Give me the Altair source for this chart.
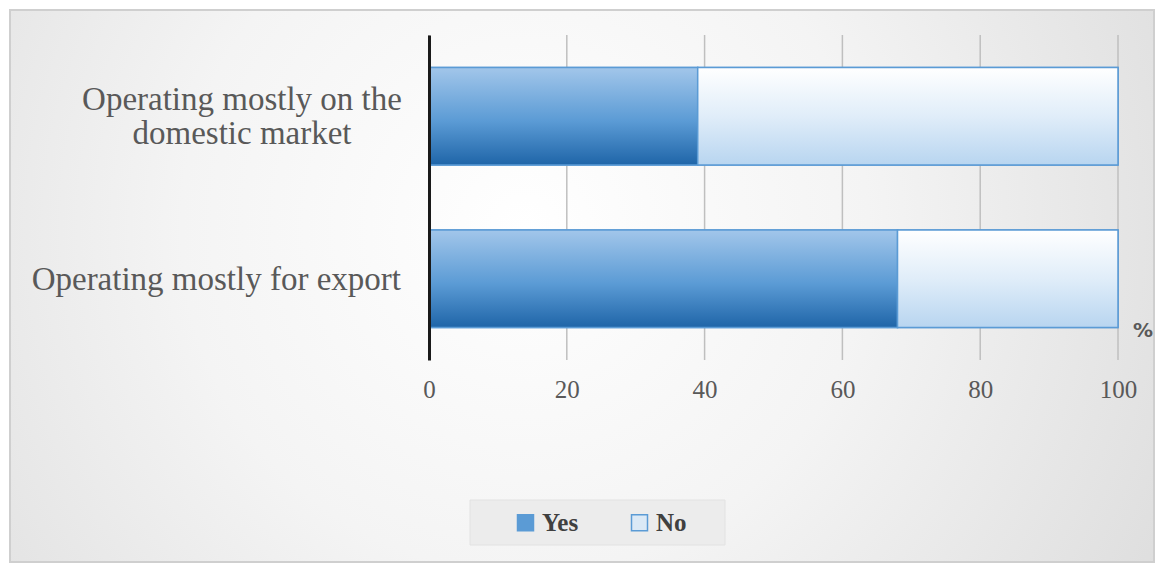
import altair as alt
import pandas as pd

categories = ["Operating mostly on the domestic market", "Operating mostly for export"]
series = ["Yes", "No"]
yes_values = [39, 68]
no_values = [61, 32]
x_ticks = [0, 20, 40, 60, 80, 100]

rows = []
for c, y, n in zip(categories, yes_values, no_values):
    rows.append({"category": c, "series": "Yes", "value": y, "order": 0})
    rows.append({"category": c, "series": "No", "value": n, "order": 1})
df = pd.DataFrame(rows)

W, H = 689, 325
PL, PT, PR, PB = 421, 27, 44, 206
SERIF = "Liberation Serif"
GREY = "#595959"

yscale = alt.Scale(domain=categories, paddingInner=0.4, paddingOuter=0.2)
xscale = alt.Scale(domain=[0, 100], nice=False)

base = alt.Chart(df).transform_stack(
    stack="value", groupby=["category"], as_=["v0", "v1"],
    sort=[alt.SortField("order", order="ascending")]
)

# background panel with radial gradient
bg = alt.Chart(pd.DataFrame({"k": [0]})).mark_rect(
    clip=False,
    fill=alt.Gradient(
        gradient="radial", x1=0.45, y1=0.45, r1=0.0, x2=0.45, y2=0.45, r2=0.75,
        stops=[alt.GradientStop(color="#ffffff", offset=0),
               alt.GradientStop(color="#f4f4f4", offset=0.4),
               alt.GradientStop(color="#d6d6d6", offset=1)]),
    stroke="#cfcfcf", strokeWidth=2,
).encode(
    x=alt.value(-PL + 2), x2=alt.value(W + PR - 8),
    y=alt.value(-PT + 2), y2=alt.value(H + PB - 4),
)

# legend box
legbox = alt.Chart(pd.DataFrame({"k": [0]})).mark_rect(
    clip=False, fill="#ececec", stroke="#e2e2e2", strokeWidth=1,
).encode(
    x=alt.value(41), x2=alt.value(296),
    y=alt.value(465), y2=alt.value(510),
)

grid = alt.Chart(pd.DataFrame({"t": x_ticks})).mark_rule(
    color="#bfbfbf", strokeWidth=1.5
).encode(
    x=alt.X("t:Q", scale=xscale),
    y=alt.value(0), y2=alt.value(H),
)

axis_x = alt.Axis(values=x_ticks, grid=False, domain=False, ticks=False,
                  labelFont=SERIF, labelFontSize=25, zindex=1, labelFlush=False,
                  labelColor=GREY, labelPadding=17, title=None)
axis_y = alt.Axis(labels=False, ticks=False, grid=False, domain=True, zindex=1,
                  domainColor="#1a1a1a", domainWidth=3, title=None)

bars = base.mark_bar(stroke="#5b9bd5", strokeWidth=1.5).encode(
    y=alt.Y("category:N", scale=yscale, axis=axis_y, sort=categories),
    x=alt.X("v0:Q", scale=xscale, axis=axis_x),
    x2="v1:Q",
    fill=alt.Fill("series:N", scale=alt.Scale(domain=series, range=["#5b9bd5", "#dbe9f6"]),
                  legend=alt.Legend(title=None, orient="none", legendX=84, legendY=475,
                                    direction="horizontal", symbolType="square",
                                    symbolSize=256, symbolStrokeColor="#5b9bd5",
                                    symbolStrokeWidth=1.5, labelFont=SERIF,
                                    labelFontSize=25, labelFontWeight="bold",
                                    labelColor="#404040", columnPadding=48,
                                    padding=0, labelOffset=4, offset=0)),
)

yes_grad = alt.Gradient(gradient="linear", x1=0, y1=0, x2=0, y2=1,
                        stops=[alt.GradientStop(color="#a2c6ea", offset=0),
                               alt.GradientStop(color="#5b9bd5", offset=0.55),
                               alt.GradientStop(color="#1f65a8", offset=1)])
no_grad = alt.Gradient(gradient="linear", x1=0, y1=0, x2=0, y2=1,
                       stops=[alt.GradientStop(color="#ffffff", offset=0),
                              alt.GradientStop(color="#e0edf9", offset=0.5),
                              alt.GradientStop(color="#b8d5f0", offset=1)])

yes_bars = base.transform_filter(alt.datum.series == "Yes").mark_bar(
    fill=yes_grad, stroke="#5b9bd5", strokeWidth=1.5).encode(
    y=alt.Y("category:N", scale=yscale, sort=categories),
    x=alt.X("v0:Q", scale=xscale), x2="v1:Q")
no_bars = base.transform_filter(alt.datum.series == "No").mark_bar(
    fill=no_grad, stroke="#5b9bd5", strokeWidth=1.5).encode(
    y=alt.Y("category:N", scale=yscale, sort=categories),
    x=alt.X("v0:Q", scale=xscale), x2="v1:Q")

lab_df = pd.DataFrame({"category": categories})
lab_dom = alt.Chart(lab_df).transform_filter(alt.datum.category == categories[0]).mark_text(
    font=SERIF, fontSize=33, color=GREY, align="center", baseline="middle",
    lineHeight=34, dy=-16,
).encode(
    y=alt.Y("category:N", scale=yscale, sort=categories),
    x=alt.value(-187),
    text=alt.value(["Operating mostly on the", "domestic market"]),
)
lab_exp = alt.Chart(lab_df).transform_filter(alt.datum.category == categories[1]).mark_text(
    font=SERIF, fontSize=33, color=GREY, align="right", baseline="middle", dy=1,
).encode(
    y=alt.Y("category:N", scale=yscale, sort=categories),
    x=alt.value(-28),
    text="category:N",
)

pct = alt.Chart(pd.DataFrame({"t": ["%"]})).mark_text(
    font="DejaVu Sans", fontSize=20, fontWeight="bold", color=GREY, clip=False,
).encode(x=alt.value(714), y=alt.value(296), text="t:N")

chart = alt.layer(bg, legbox, grid, bars, yes_bars, no_bars, lab_dom, lab_exp, pct).properties(
    width=W, height=H,
    autosize=alt.AutoSizeParams(type="none"),
    padding={"left": PL, "top": PT, "right": PR, "bottom": PB},
    background="#ffffff",
).configure_view(stroke=None)

chart.save("out.html", embed_options={"renderer": "svg", "actions": False})
